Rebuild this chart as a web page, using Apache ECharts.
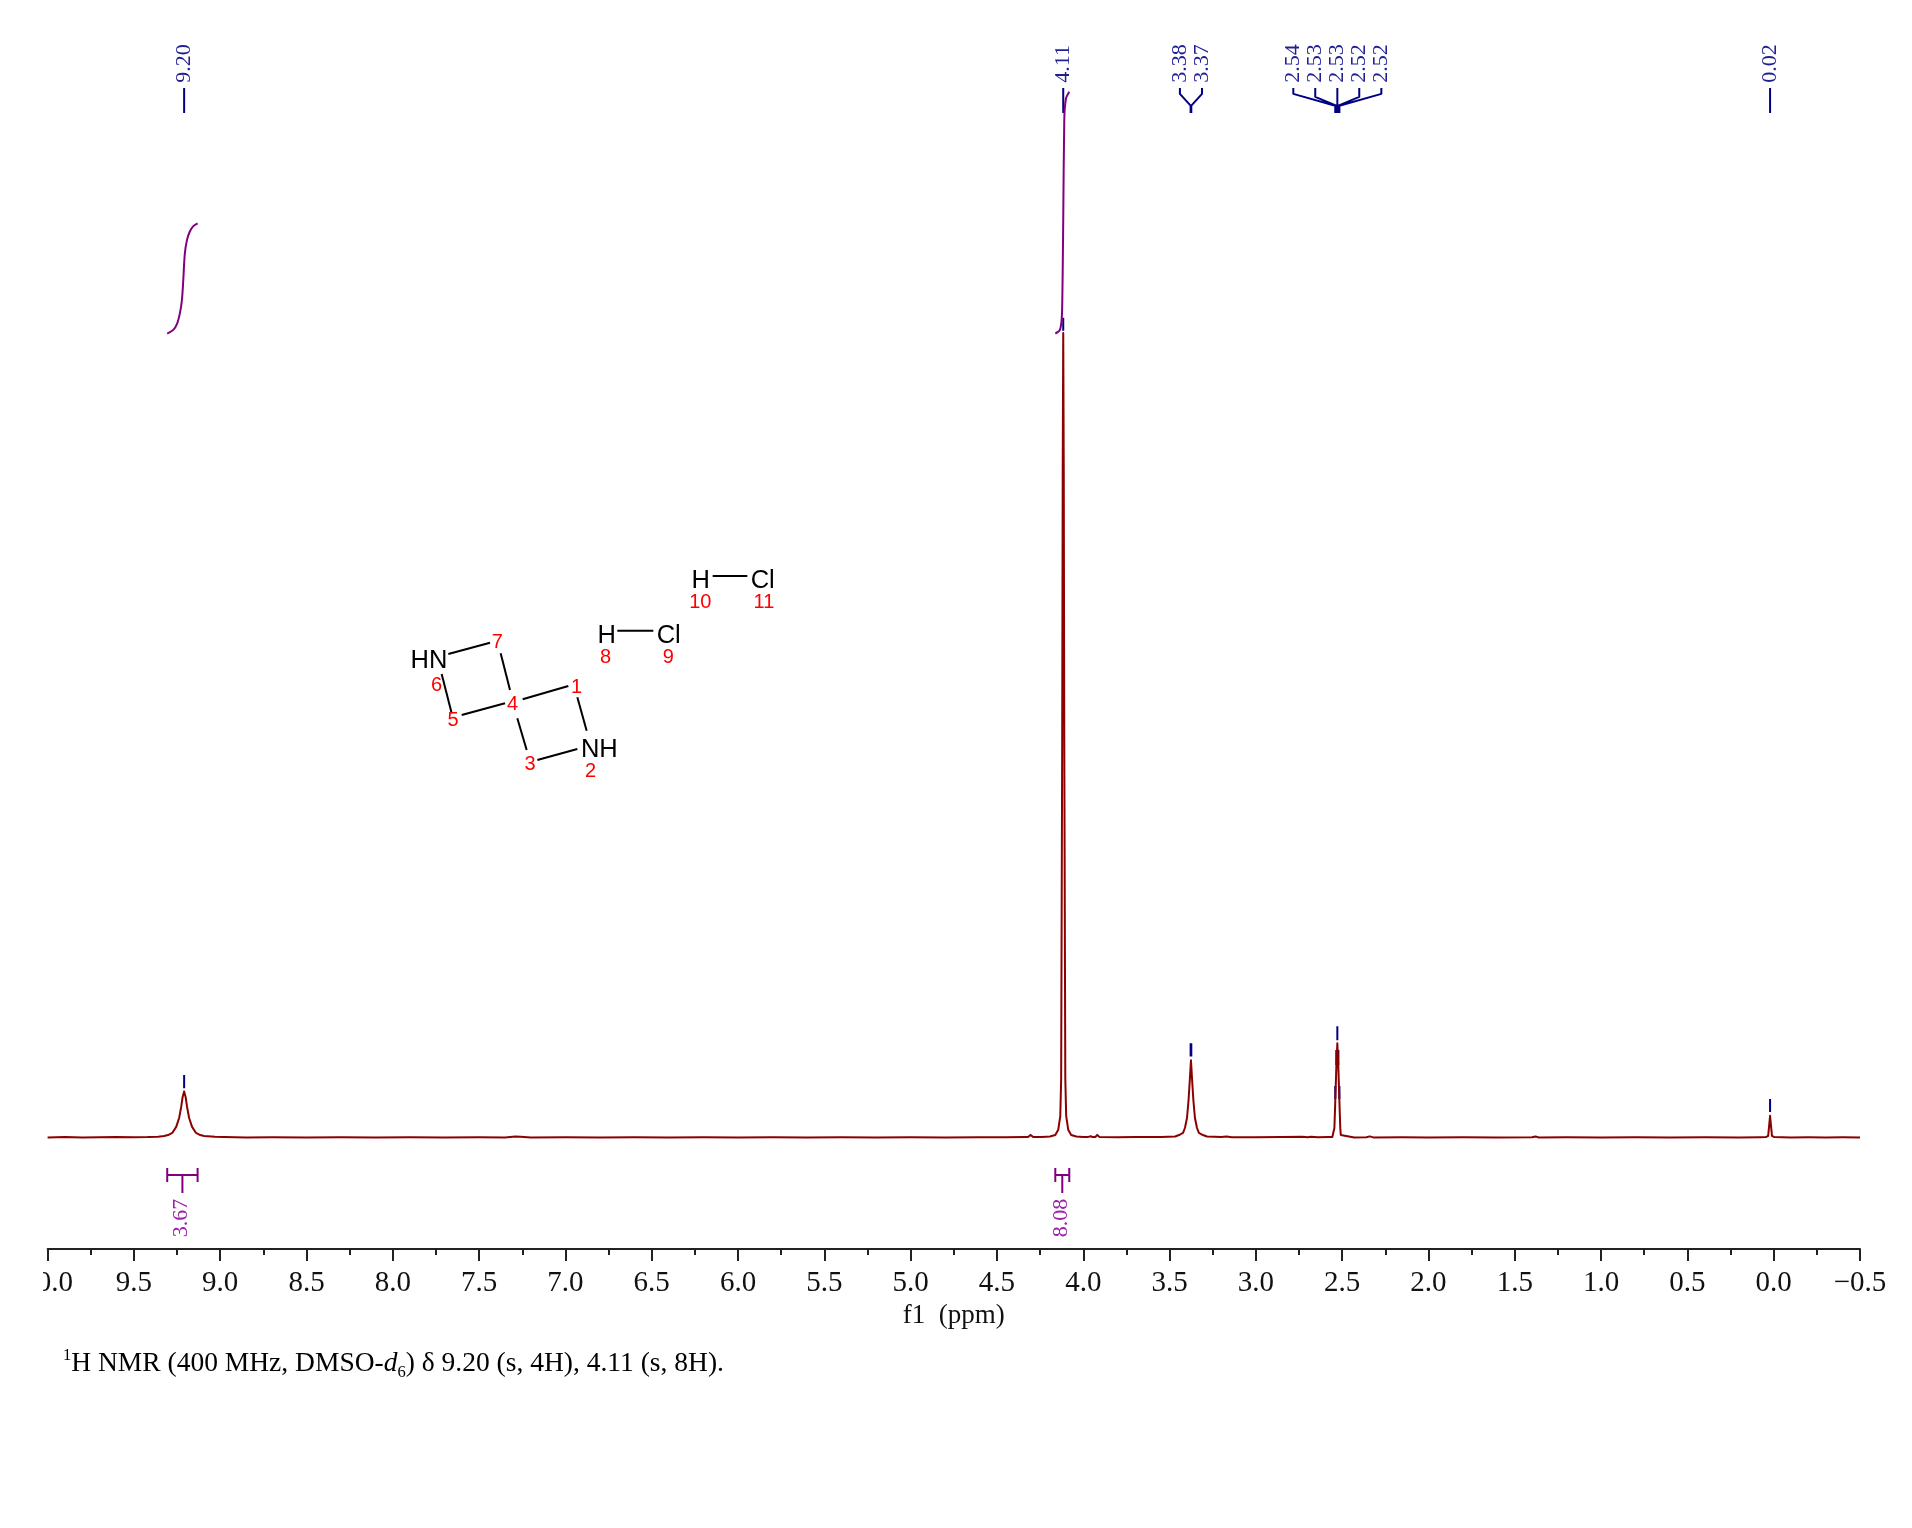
<!DOCTYPE html>
<html><head><meta charset="utf-8">
<style>html,body{margin:0;padding:0;background:#fff}#c{width:1912px;height:1528px}</style>
<script src="https://cdn.jsdelivr.net/npm/echarts@6/dist/echarts.min.js"></script>
</head><body><div id="c"></div>
<script>
// ---------- spectrum (ppm, intensity) ----------
const baseA = [[10,.08],[9.9,.12],[9.8,.07],[9.7,.1],[9.6,.13],[9.5,.09],[9.42,.12],[9.36,.18]];
const peak920 = [[9.325,.27],[9.302,.4],[9.278,.68],[9.255,1.5],[9.238,2.7],[9.226,4.2],[9.218,5.5],[9.209,6.3],[9.2,5.5],[9.192,4.2],[9.18,2.7],[9.163,1.5],[9.14,.68],[9.116,.4],[9.093,.27],[9.03,.16],[8.977,.12]];
const baseB = [[8.85,.08],[8.7,.1],[8.5,.06],[8.3,.09],[8.1,.07],[7.9,.09],[7.7,.06],[7.5,.1],[7.35,.08],[7.29,.2],[7.26,.16],[7.2,.08],[7,.1],[6.8,.06],[6.6,.09],[6.4,.07],[6.2,.1],[6,.06],[5.8,.09],[5.6,.07],[5.4,.1],[5.2,.06],[5,.09],[4.8,.08],[4.6,.1],[4.45,.1],[4.34,.12]];
const bump430 = [[4.32,.12],[4.305,.42],[4.29,.12]];
const peak411 = [[4.24,.12],[4.193,.2],[4.162,.4],[4.145,1.1],[4.133,3],[4.128,8],[4.122,54],[4.119,90],[4.116,108.8],[4.113,90],[4.11,54],[4.104,8],[4.099,3],[4.087,1.1],[4.07,.4],[4.04,.2],[4,.14],[3.975,.12]];
const bump395 = [[3.965,.14],[3.957,.24],[3.945,.12],[3.93,.14],[3.919,.42],[3.905,.12]];
const baseC = [[3.8,.1],[3.7,.12],[3.6,.13],[3.55,.15]];
const peak337 = [[3.468,.2],[3.445,.4],[3.422,.68],[3.411,1.35],[3.399,2.7],[3.39,5.1],[3.382,8.1],[3.376,10.5],[3.37,8.1],[3.362,5.1],[3.353,2.7],[3.341,1.35],[3.33,.68],[3.307,.4],[3.283,.2],[3.2,.13]];
const baseD = [[3.17,.2],[3.14,.1],[3,.1],[2.85,.12],[2.73,.18],[2.7,.1],[2.68,.17],[2.64,.1],[2.58,.12]];
const peak253 = [[2.557,.13],[2.548,.4],[2.545,1.35],[2.54,4.9],[2.534,9.5],[2.528,12.8],[2.522,9.5],[2.516,4.9],[2.511,1.35],[2.508,.4],[2.499,.13]];
const baseE = [[2.43,.08],[2.36,.1],[2.34,.22],[2.32,.08],[2.15,.1],[2,.07],[1.8,.1],[1.6,.06],[1.4,.1],[1.38,.2],[1.36,.08],[1.2,.09],[1,.07],[.8,.1],[.6,.06],[.4,.09],[.2,.07],[.08,.1]];
const peak002 = [[.045,.12],[.032,.3],[.027,1.5],[.021,3],[.015,1.5],[.01,.3],[-.003,.12]];
const baseF = [[-.1,.08],[-.2,.1],[-.3,.07],[-.4,.1],[-.5,.08]];

// ---------- integrals ----------
const integral920 = [[9.307,108.7],[9.272,109.2],[9.249,110.1],[9.234,111.4],[9.222,113.2],[9.214,115.9],[9.205,119.5],[9.192,121.4],[9.176,122.5],[9.157,123.2],[9.131,123.6]];
const integral411 = [[4.162,108.7],[4.135,109.2],[4.123,111.5],[4.116,124],[4.11,137.6],[4.1,140.5],[4.081,141.4]];
const integralValues = ['3.67','8.08'];

// ---------- peak picking ----------
const peakLabels = ['9.20','4.11','3.38','3.37','2.54','2.53','2.53','2.52','2.52','0.02'];
const peakPpm    = [9.209,4.116,3.378,3.374,2.54,2.534,2.528,2.522,2.516,.021];
const tickTop    = [8.51,110.85,12.8,12.8,7.03,11.9,15.1,11.9,7.03,5.27];
const tickBottom = [6.72,109.09,11,11,5.27,9.86,13.2,9.86,5.27,3.51];
const labelPpm   = [9.209,4.116,3.44,3.312,2.783,2.656,2.528,2.401,2.273,.021];
const elbowLevel = [141,141,141.1,141.1,141.1,140.7,141,140.7,141.1,141];

// ---------- axis ----------
const axisMin = -0.5, axisMax = 10, axisStep = 0.5;
const axisName = 'f1  (ppm)';
const footer = ['1','H NMR (400 MHz, DMSO-','d','6',') δ 9.20 (s, 4H), 4.11 (s, 8H).'];

// ---------- layout (not data) ----------
const treeTop = 141.9, treeJoin = 139.5, treeFoot = 138.5;
const bracketCapTop = -4.05, bracketBar = -5, bracketCapBottom = -5.95, bracketStem = -7.43, bracketLabel = -13.4;
const navy = '#000080', navyText = '#1f1f96', purple = '#800080', purpleText = '#9c22a8', wine = '#8b0000';

const trace = [].concat(baseA,peak920,baseB,bump430,peak411,bump395,baseC,peak337,baseD,peak253,baseE,peak002,baseF);
const gap = [NaN,NaN];
const treeLines = [], pickTicks = [];
peakPpm.forEach((p,i)=>{
  treeLines.push([labelPpm[i],treeTop],[labelPpm[i],elbowLevel[i]],[p,treeJoin],[p,treeFoot],gap);
  pickTicks.push([p,tickTop[i]],[p,tickBottom[i]],gap);
});
const brackets = [];
[integral920,integral411].forEach(c=>{
  const a=c[0][0], b=c[c.length-1][0], m=(a+b)/2;
  brackets.push([a,bracketCapTop],[a,bracketCapBottom],gap,[b,bracketCapTop],[b,bracketCapBottom],gap,[a,bracketBar],[b,bracketBar],gap,[m,bracketBar],[m,bracketStem],gap);
});
const lineSeries=(data,color,width,z,smooth)=>({type:'line',data,showSymbol:false,symbol:'none',silent:true,connectNulls:false,clip:false,z,smooth:smooth||false,
  lineStyle:{color,width,cap:'butt',join:'round'}});
const textSeries=(rows,color,size,shift)=>({type:'custom',silent:true,clip:false,z:6,data:rows,
  encode:{x:0,y:1},
  renderItem:(params,api)=>{
    const pt=api.coord([api.value(0),api.value(1)]);
    return {type:'text',x:pt[0]+shift,y:pt[1],rotation:Math.PI/2,
      style:{text:rows[params.dataIndex][2],align:'left',verticalAlign:'middle',fill:color,font:size+'px "Liberation Serif"'}};
  }});

// molecule drawing, in crop units
const mx=c=>380+c/3, my=c=>550+c/3;
const bonds=[[205,312,330,278],[362,310,390,420],[428,448,565,408],[592,442,620,542],[472,630,592,597],[412,505,440,600],[245,495,375,460],[185,372,215,490],[712,242,820,242],[998,78,1102,78]];
const atoms=[['HN',147,334],['NH',658,601],['H',680,257],['Cl',866,257],['H',962,93],['Cl',1148,93]];
const numbers=[['7',352,278],['6',170,405],['5',219,510],['4',398,462],['1',590,412],['3',450,643],['2',632,665],['8',677,322],['9',865,322],['10',961,158],['11',1152,158]];
const graphics=[];
bonds.forEach(b=>graphics.push({type:'line',silent:true,z:3,shape:{x1:mx(b[0]),y1:my(b[1]),x2:mx(b[2]),y2:my(b[3])},style:{stroke:'#000',lineWidth:2}}));
atoms.forEach(a=>graphics.push({type:'text',silent:true,z:3,x:mx(a[1]),y:my(a[2]),style:{text:a[0],fill:'#000',align:'center',verticalAlign:'middle',font:'25.5px "Liberation Sans"'}}));
numbers.forEach(a=>graphics.push({type:'text',silent:true,z:4,x:mx(a[1]),y:my(a[2]),style:{text:a[0],fill:'#ff0000',align:'center',verticalAlign:'middle',font:'20px "Liberation Sans"'}}));
graphics.push({type:'rect',silent:true,z:50,zlevel:1,shape:{x:0,y:1264,width:43,height:40},style:{fill:'#fff'}});
graphics.push({type:'text',silent:true,z:5,x:63,y:1364,style:{
  text:`{s|${footer[0]}}{b|${footer[1]}}{i|${footer[2]}}{u|${footer[3]}}{b|${footer[4]}}`,
  verticalAlign:'middle',align:'left',
  rich:{
    b:{font:'27.5px "Liberation Serif"',fill:'#000',lineHeight:34},
    i:{font:'italic 27.5px "Liberation Serif"',fill:'#000',lineHeight:34},
    s:{font:'16.5px "Liberation Serif"',fill:'#000',lineHeight:16,verticalAlign:'top'},
    u:{font:'16.5px "Liberation Serif"',fill:'#000',lineHeight:16,verticalAlign:'bottom'}
  }}});

const chart=echarts.init(document.getElementById('c'),null,{renderer:'canvas'});
chart.setOption({
  animation:false,backgroundColor:'#fff',
  grid:{left:47.6,right:52,top:28,bottom:279,containLabel:false},
  xAxis:{type:'value',inverse:true,min:axisMin,max:axisMax,interval:axisStep,
    name:axisName,nameLocation:'middle',nameGap:58,
    nameTextStyle:{fontFamily:'Liberation Serif',fontSize:27,color:'#111',verticalAlign:'middle'},
    axisLine:{show:true,onZero:false,lineStyle:{color:'#222',width:2}},
    axisTick:{show:true,length:12,lineStyle:{color:'#222',width:2}},
    minorTick:{show:true,splitNumber:2,length:6,lineStyle:{color:'#222',width:2}},
    splitLine:{show:false},minorSplitLine:{show:false},
    axisLabel:{show:true,margin:20,hideOverlap:false,showMinLabel:true,showMaxLabel:true,fontFamily:'Liberation Serif',fontSize:29,color:'#111',
      formatter:v=>(v<0?'\u2212':'')+Math.abs(v).toFixed(1)}},
  yAxis:{type:'value',show:false,min:-15,max:150,splitLine:{show:false}},
  graphic:{elements:graphics},
  series:[
    lineSeries(pickTicks,navy,2,2),
    lineSeries(trace,wine,2,3),
    lineSeries(treeLines,navy,2,4),
    lineSeries(integral920,purple,2,5,0.3),
    lineSeries(integral411,purple,2,5,0.2),
    lineSeries(brackets,purple,2,5),
    textSeries(peakPpm.map((p,i)=>[labelPpm[i],142.6,peakLabels[i]]),navyText,22,0),
    textSeries([[(integral920[0][0]+integral920[integral920.length-1][0])/2,bracketLabel,integralValues[0]],[(integral411[0][0]+integral411[integral411.length-1][0])/2,bracketLabel,integralValues[1]]],purpleText,22,-1)
  ]
});
</script></body></html>
